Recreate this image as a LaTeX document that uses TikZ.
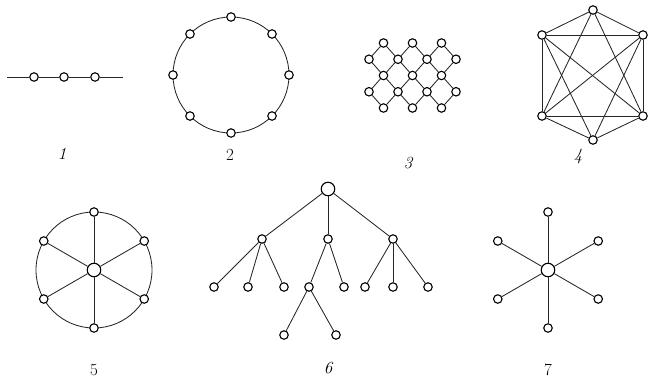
\documentclass[tikz,border=0pt]{standalone}
\begin{document}
\begin{tikzpicture}[x=1pt,y=-1pt,
    vtx/.style={circle,draw,fill=white,inner sep=0pt,minimum size=8.5pt,line width=1.1pt},
    hub/.style={vtx,minimum size=13.5pt},
    edge/.style={line width=0.85pt,draw=black!85},
    lbl/.style={font=\fontsize{17}{17}\selectfont}]
  \useasboundingbox (0,0) rectangle (656,380);

  % 1: chain
  \coordinate (c1l) at (7,77);
  \coordinate (c1r) at (123,77);
  \foreach \i/\x in {1/34,2/64,3/95}
    \node[vtx] (c1-\i) at (\x,77) {};
  \draw[edge] (c1l) -- (c1-1) -- (c1-2) -- (c1-3) -- (c1r);
  \node[lbl] (n1) at (62,154) {\itshape 1};

  % 2: ring
  \draw[edge] (231,75) circle (58);
  \foreach \i/\a in {1/90,2/45,3/0,4/-45,5/-90,6/-135,7/180,8/135}
    \path (231,75) ++(\a:58) node[vtx] (r2-\i) {};
  \node[lbl] (n2) at (230,155) {2};

  % 3: lattice
  \foreach \j in {0,2,4}
    \foreach \i in {1,3,5}
      \node[vtx] (g3-\i-\j) at ({369+14.5*\i},{43+16.25*\j}) {};
  \foreach \j in {1,3}
    \foreach \i in {0,2,4,6}
      \node[vtx] (g3-\i-\j) at ({369+14.5*\i},{43+16.25*\j}) {};
  \foreach \j/\k in {0/1,2/1,2/3,4/3}
    \foreach \i/\a/\b in {1/0/2,3/2/4,5/4/6}
      \draw[edge] (g3-\a-\k) -- (g3-\i-\j) -- (g3-\b-\k);
  \node[lbl] (n3) at (408,163) {\itshape 3};

  % 4: hexagon, all chords but top--bottom
  \node[vtx] (t4) at (593,10) {};
  \node[vtx] (ul4) at (542,35) {};
  \node[vtx] (ur4) at (643,35) {};
  \node[vtx] (ll4) at (542,116) {};
  \node[vtx] (lr4) at (643,116) {};
  \node[vtx] (b4) at (593,140) {};
  \foreach \a/\b in {t4/ul4,t4/ur4,t4/ll4,t4/lr4,ul4/ur4,ul4/ll4,ul4/lr4,ul4/b4,
                     ur4/ll4,ur4/lr4,ur4/b4,ll4/lr4,ll4/b4,lr4/b4}
    \draw[edge] (\a) -- (\b);
  \node[lbl] (n4) at (578,156) {\itshape 4};

  % 5: wheel
  \draw[edge] (94,270) circle (58);
  \node[hub] (h5) at (94,270) {};
  \foreach \i/\a in {1/90,2/30,3/-30,4/-90,5/-150,6/150}{
    \path (94,270) ++(\a:58) node[vtx] (w5-\i) {};
    \draw[edge] (h5) -- (w5-\i);
  }
  \node[lbl] (n5) at (94,370) {5};

  % 6: tree
  \node[hub] (rt6) at (328,189) {};
  \node[vtx] (a6) at (262,239) {};
  \node[vtx] (b6) at (328,239) {};
  \node[vtx] (c6) at (393,239) {};
  \foreach \n/\x in {a1/214,a2/248,a3/284,b1/309,b2/344,c1/365,c2/393,c3/428}
    \node[vtx] (\n6) at (\x,287) {};
  \node[vtx] (d16) at (284,335) {};
  \node[vtx] (d26) at (336,335) {};
  \foreach \a/\b in {rt6/a6,rt6/b6,rt6/c6,a6/a16,a6/a26,a6/a36,b6/b16,b6/b26,
                     c6/c16,c6/c26,c6/c36,b16/d16,b16/d26}
    \draw[edge] (\a) -- (\b);
  \node[lbl] (n6) at (328,368) {\itshape 6};

  % 7: star
  \node[hub] (h7) at (548,270) {};
  \foreach \i/\a in {1/90,2/30,3/-30,4/-90,5/-150,6/150}{
    \path (548,270) ++(\a:58) node[vtx] (s7-\i) {};
    \draw[edge] (h7) -- (s7-\i);
  }
  \node[lbl] (n7) at (548,370) {7};
\end{tikzpicture}
\end{document}
